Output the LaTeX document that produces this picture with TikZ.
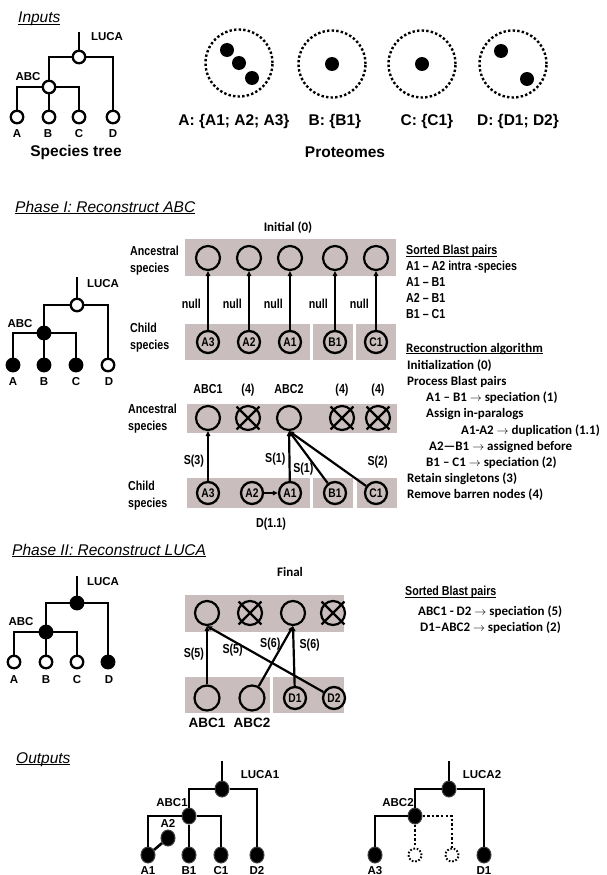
\documentclass[tikz,border=0pt]{standalone}
\usepackage{fontspec}
\setmainfont{Liberation Sans}
\newfontfamily\narrowfont[FakeStretch=0.82]{Liberation Sans}
\newfontfamily\califont{Carlito}
\usetikzlibrary{arrows.meta}
\usetikzlibrary{shapes.geometric}

\definecolor{bandgray}{RGB}{201,189,189}
\newcommand{\secfont}{\fontsize{15.5}{18}\selectfont\itshape}
\newcommand{\capfont}{\fontsize{15.5}{18}\selectfont\bfseries}
\newcommand{\lblfont}{\fontsize{11.5}{13}\selectfont\bfseries}
\newcommand{\netfont}{\narrowfont\fontsize{13}{17}\selectfont\bfseries}
\newcommand{\kidfont}{\narrowfont\fontsize{12.5}{14}\selectfont\bfseries}
\newcommand{\algfont}{\califont\fontsize{13}{16}\selectfont\bfseries}
\newcommand{\goesto}{\ensuremath{\rightarrow}}
\newcommand{\uline}[1]{\underline{\smash{#1}}}

\begin{document}
\begin{tikzpicture}
[x=1pt, y=-1pt,
  branch/.style={line width=2.6pt},
  dotbranch/.style={line width=2.4pt, dash pattern=on 2.4pt off 2.2pt},
  straight/.style={},
  hv/.style={to path={-| (\tikztotarget)}},
  vh/.style={to path={|- (\tikztotarget)}},
  openleaf/.style={circle, draw, line width=2.3pt, fill=white, minimum size=12.5pt, inner sep=0pt},
  fullleaf/.style={openleaf, fill=black},
  outleaf/.style={ellipse, draw=black!75, line width=1pt, fill=black, minimum width=14pt, minimum height=16pt, inner sep=0pt},
  ghostleaf/.style={circle, draw, line width=2pt, dash pattern=on 1.6pt off 1.8pt, minimum size=13pt, inner sep=0pt},
  proteome/.style={circle, draw, line width=2.4pt, dash pattern=on 2.4pt off 2.2pt, minimum size=67pt, inner sep=0pt},
  protein/.style={circle, fill=black, minimum size=14pt, inner sep=0pt},
  band/.style={fill=bandgray},
  ancnode/.style={circle, draw, line width=2.2pt, minimum size=24pt, inner sep=0pt},
  kidnode/.style={circle, draw, line width=2.3pt, minimum size=22pt, inner sep=0pt, font=\kidfont},
  xline/.style={-, line width=2.2pt, shorten <=-3pt, shorten >=-3pt},
  barren/.style={ancnode, append after command={
    (\tikzlastnode.north west) edge[xline] (\tikzlastnode.south east)
    (\tikzlastnode.north east) edge[xline] (\tikzlastnode.south west)}},
  link/.style={-{Triangle[length=5pt,width=4.5pt]}, line width=2.2pt},
  section/.style={font=\secfont, anchor=base west, inner sep=0pt},
  caption/.style={font=\capfont, inner sep=0pt, text height=11pt, text depth=0pt},
  treelbl/.style={font=\lblfont, inner sep=0pt, text height=8.2pt, text depth=0pt},
  netlbl/.style={font=\netfont, inner sep=2pt, text height=9.3pt, text depth=0pt},
  sidelbl/.style={font=\netfont, anchor=west, align=left, inner sep=0pt},
  listtxt/.style={font=\netfont, anchor=west, inner sep=0pt, text height=9.3pt, text depth=0pt},
  algtxt/.style={font=\algfont, anchor=west, inner sep=0pt, text height=8.4pt, text depth=0pt}]
\useasboundingbox (0,0) rectangle (606,875);

%% section titles
\foreach \nodename/\txt/\x/\y in {inputs/Inputs/18/23, phase1/Phase I: Reconstruct ABC/15/212,
  phase2/Phase II: Reconstruct LUCA/12/555, outputs/Outputs/16/763}
{
  \node[section] (\nodename) at (\x,\y) {\uline{\txt}};
}

%% ---------------- inputs: species tree
\coordinate (s0top) at (79,32);
\foreach \nodename/\x/\y in {s0luca/79/57, s0abc/49/87, s0a/17/117, s0b/49/117, s0c/79/117, s0d/113/117}
{
  \node[openleaf] (\nodename) at (\x,\y) {};
}
\path
\foreach \startnode/\endnode/\how in {
  s0top/s0luca/straight, s0abc/s0luca/vh, s0luca/s0d/hv, s0abc/s0a/hv, s0abc/s0b/straight, s0abc/s0c/hv}
{
  (\startnode) edge[branch,\how] (\endnode)
};
\foreach \nodename/\txt/\x/\y in {
  s0lucalbl/LUCA/107/36, s0abclbl/ABC/28/76, s0albl/A/17/133, s0blbl/B/48/133, s0clbl/C/79/133, s0dlbl/D/113/133}
{
  \node[treelbl] (\nodename) at (\x,\y) {\txt};
}
\node[caption] (treecap) at (76,151) {Species tree};

%% ---------------- inputs: proteomes
\foreach \nodename/\x/\y in {pA/239/63, pB/332/64, pC/422/64, pD/513/64}
{
  \node[proteome] (\nodename) at (\x,\y) {};
}
\foreach \nodename/\x/\y in {A1/227/50, A2/239/63, A3/252/78, B1/332/64, C1/422/64, D1/501/51, D2/527/79}
{
  \node[protein] (prot\nodename) at (\x,\y) {};
}
\foreach \nodename/\txt/\x in {pAlbl/A: \{A1; A2; A3\}/234, pBlbl/B: \{B1\}/335, pClbl/C: \{C1\}/427, pDlbl/D: \{D1; D2\}/518}
{
  \node[caption] (\nodename) at (\x,120) {\txt};
}
\node[caption] (protcap) at (345,152) {Proteomes};

%% ---------------- phase I: species tree
\coordinate (s1top) at (77,277);
\foreach \nodename/\kind/\x/\y in {s1luca/openleaf/77/305, s1abc/fullleaf/44/333, s1a/fullleaf/13/365,
  s1b/fullleaf/44/365, s1c/fullleaf/76/365, s1d/openleaf/108/365}
{
  \node[\kind] (\nodename) at (\x,\y) {};
}
\path
\foreach \startnode/\endnode/\how in {
  s1top/s1luca/straight, s1abc/s1luca/vh, s1luca/s1d/hv, s1abc/s1a/hv, s1abc/s1b/straight, s1abc/s1c/hv}
{
  (\startnode) edge[branch,\how] (\endnode)
};
\foreach \nodename/\txt/\x/\y in {
  s1lucalbl/LUCA/103/283, s1abclbl/ABC/20/323, s1albl/A/13/381, s1blbl/B/44/381, s1clbl/C/76/381, s1dlbl/D/109/381}
{
  \node[treelbl] (\nodename) at (\x,\y) {\txt};
}

%% ---------------- phase I: initial network
\foreach \xa/\ya/\xb/\yb in {185/239/396/276, 185/324/310/360, 313/324/353/360, 356/324/396/360}
{
  \fill[band] (\xa,\ya) rectangle (\xb,\yb);
}
\node[algtxt, anchor=center] (initial) at (288,227) {Initial (0)};
\node[sidelbl] (ianclbl) at (130,261) {Ancestral\\species};
\node[sidelbl] (ikidlbl) at (130,338) {Child\\species};
\foreach \nodename/\x in {ia1/208, ia2/249, ia3/290, ia4/335, ia5/376}
{
  \node[ancnode] (\nodename) at (\x,258) {};
}
\foreach \nodename/\txt/\x in {iA3/A3/208, iA2/A2/249, iA1/A1/290, iB1/B1/335, iC1/C1/376}
{
  \node[kidnode] (\nodename) at (\x,342) {\txt};
}
\path
\foreach \startnode/\endnode in {iA3/ia1, iA2/ia2, iA1/ia3, iB1/ia4, iC1/ia5}
{
  (\startnode) edge[link] node[netlbl, pos=0.44, left=4pt] {null} (\endnode)
};

%% ---------------- phase I: reconstructed network
\foreach \xa/\ya/\xb/\yb in {187/404/397/433, 187/478/310/508, 313/478/353/508, 357/478/397/508}
{
  \fill[band] (\xa,\ya) rectangle (\xb,\yb);
}
\node[sidelbl] (ranclbl) at (128,419) {Ancestral\\species};
\node[sidelbl] (rkidlbl) at (128,496) {Child\\species};
\foreach \nodename/\kind/\txt/\x in {rABC1/ancnode/ABC1/208, rX2/barren/(4)/248, rABC2/ancnode/ABC2/289,
  rX4/barren/(4)/342, rX5/barren/(4)/378}
{
  \node[\kind, label={[netlbl, label distance=9pt]above:\txt}] (\nodename) at (\x,418) {};
}
\foreach \nodename/\txt/\x in {rA3/A3/208, rA2/A2/252, rA1/A1/290, rB1/B1/335, rC1/C1/376}
{
  \node[kidnode] (\nodename) at (\x,493) {\txt};
}
\path
  (rA3) edge[link] node[netlbl, pos=0.42, left=1pt] {S(3)} (rABC1)
  (rA1) edge[link] node[netlbl, pos=0.46, left=1pt] {S(1)} (rABC2.south)
  (rB1) edge[link] node[netlbl, pos=0.29, left=0pt] {S(1)} (rABC2.south)
  (rC1) edge[link] node[netlbl, pos=0.45, right=33pt] {S(2)} (rABC2.south)
  (rA2) edge[link] node[netlbl, below=22pt] {D(1.1)} (rA1);

%% ---------------- phase I: pairs and algorithm
\node[listtxt] (pairshead) at (406,250) {\uline{Sorted Blast pairs}};
\foreach \y/\txt [count=\i] in {266/A1 – A2 intra -species, 282/A1 – B1, 298/A2 – B1, 314/B1 – C1}
{
  \node[listtxt] (pair\i) at (406,\y) {\txt};
}
\node[algtxt] (alghead) at (406,348) {\uline{Reconstruction algorithm}};
\foreach \x/\y/\txt [count=\i] in {
  407/365/Initialization (0), 407/381/Process Blast pairs,
  426/397/A1 – B1 \goesto{} speciation (1), 426/413/Assign in-paralogs,
  461/430/A1-A2 \goesto{} duplication (1.1), 429/446/A2—B1 \goesto{} assigned before,
  426/462/B1 – C1 \goesto{} speciation (2), 407/478/Retain singletons (3),
  407/494/Remove barren nodes (4)}
{
  \node[algtxt] (alg\i) at (\x,\y) {\txt};
}

%% ---------------- phase II: species tree
\coordinate (s2top) at (77,576);
\foreach \nodename/\kind/\x/\y in {s2luca/fullleaf/77/603, s2abc/fullleaf/46/632, s2a/openleaf/14/662,
  s2b/openleaf/46/662, s2c/openleaf/77/662, s2d/fullleaf/108/662}
{
  \node[\kind] (\nodename) at (\x,\y) {};
}
\path
\foreach \startnode/\endnode/\how in {
  s2top/s2luca/straight, s2abc/s2luca/vh, s2luca/s2d/hv, s2abc/s2a/hv, s2abc/s2b/straight, s2abc/s2c/hv}
{
  (\startnode) edge[branch,\how] (\endnode)
};
\foreach \nodename/\txt/\x/\y in {
  s2lucalbl/LUCA/103/581, s2abclbl/ABC/21/621, s2albl/A/14/679, s2blbl/B/46/679, s2clbl/C/77/679, s2dlbl/D/109/679}
{
  \node[treelbl] (\nodename) at (\x,\y) {\txt};
}

%% ---------------- phase II: final network
\foreach \xa/\ya/\xb/\yb in {185/595/344/632, 185/677/270/713, 273/677/344/713}
{
  \fill[band] (\xa,\ya) rectangle (\xb,\yb);
}
\node[algtxt, anchor=center] (final) at (290,572) {Final};
\foreach \nodename/\kind/\x in {fa1/ancnode/207, fx2/barren/250, fa3/ancnode/293, fx4/barren/333}
{
  \node[\kind] (\nodename) at (\x,613) {};
}
\foreach \nodename/\txt/\x in {fABC1/ABC1/207, fABC2/ABC2/252}
{
  \node[ancnode, minimum size=25pt, label={[caption, font=\fontsize{13.5}{15}\selectfont\bfseries, label distance=5pt]below:\txt}] (\nodename) at (\x,698) {};
}
\foreach \nodename/\txt/\x in {fD1/D1/295, fD2/D2/334}
{
  \node[kidnode] (\nodename) at (\x,698) {\txt};
}
\path
  (fABC1) edge[link] node[netlbl, pos=0.54, left=0pt] {S(5)} (fa1)
  (fD2) edge[link] node[netlbl, pos=0.78, below=0pt] {S(5)} (fa1.south)
  (fABC2) edge[link] node[netlbl, pos=0.72, left=0pt] {S(6)} (fa3.south)
  (fD1) edge[link] node[netlbl, pos=0.7, right=3pt] {S(6)} (fa3.south);

\node[listtxt] (finalhead) at (405,591) {\uline{Sorted Blast pairs}};
\node[algtxt] (final1) at (418,611) {ABC1 - D2 \goesto{} speciation (5)};
\node[algtxt] (final2) at (420,627) {D1–ABC2 \goesto{} speciation (2)};

%% ---------------- outputs
\coordinate (o1top) at (222,761);
\coordinate (o2top) at (449,761);
\foreach \nodename/\kind/\x/\y in {o1luca/outleaf/222/789, o1abc/outleaf/189/816, o1A2/outleaf/168/838,
  o1A1/outleaf/148/855, o1B1/outleaf/189/855, o1C1/outleaf/221/855, o1D2/outleaf/257/855,
  o2luca/outleaf/449/789, o2abc/outleaf/415/816, o2A3/outleaf/375/855, o2g1/ghostleaf/415/855,
  o2g2/ghostleaf/452/855, o2D1/outleaf/484/855}
{
  \node[\kind] (\nodename) at (\x,\y) {};
}
\path
\foreach \startnode/\endnode/\how in {
  o1top/o1luca/straight, o1abc/o1luca/vh, o1luca/o1D2/hv, o1abc/o1A1/hv, o1abc/o1B1/straight,
  o1abc/o1C1/hv, o1A2/o1A1/straight,
  o2top/o2luca/straight, o2abc/o2luca/vh, o2luca/o2D1/hv, o2abc/o2A3/hv}
{
  (\startnode) edge[branch,\how] (\endnode)
};
\path
  (o2abc) edge[dotbranch] (o2g1)
  (o2abc) edge[dotbranch,hv] (o2g2);
\foreach \nodename/\txt/\x/\y in {
  o1lucalbl/LUCA1/260/774, o1abclbl/ABC1/172/802, o1A2lbl/A2/168/823, o1A1lbl/A1/148/870,
  o1B1lbl/B1/189/870, o1C1lbl/C1/221/870, o1D2lbl/D2/257/870,
  o2lucalbl/LUCA2/482/774, o2abclbl/ABC2/398/802, o2A3lbl/A3/375/870, o2D1lbl/D1/484/870}
{
  \node[treelbl] (\nodename) at (\x,\y) {\txt};
}
\end{tikzpicture}
\end{document}
